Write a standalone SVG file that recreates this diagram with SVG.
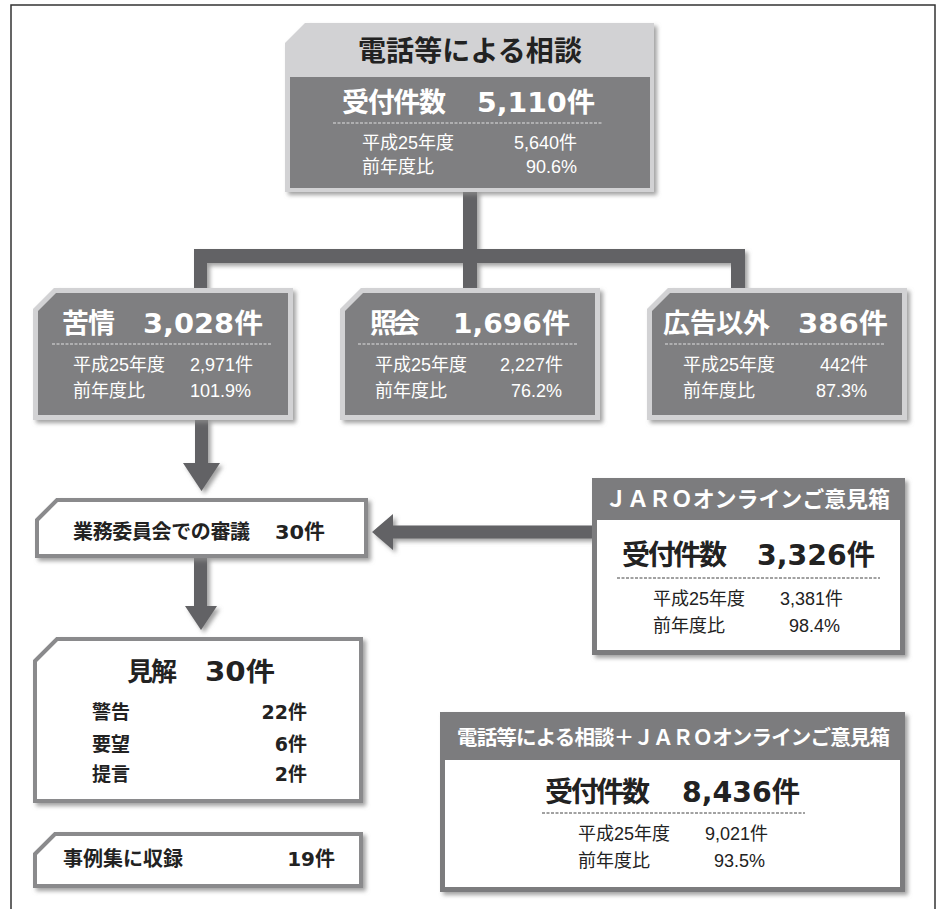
<svg xmlns="http://www.w3.org/2000/svg" width="937" height="909" viewBox="0 0 937 909">
<defs>
<filter id="sh" x="-10%" y="-10%" width="130%" height="130%">
<feDropShadow dx="3" dy="3" stdDeviation="2" flood-color="#8a8a8a" flood-opacity="0.8"/>
</filter>
</defs>
<style>
text{font-family:'Liberation Sans','Noto Sans CJK JP',sans-serif}
.big{font-family:'DejaVu Sans','Noto Sans CJK JP',sans-serif;font-weight:bold}
.lab{font-family:'Noto Sans CJK JP',sans-serif;font-weight:bold}
.w{fill:#fff}
.d{fill:#222}
.sm{font-size:18px}
.darkbox{fill:#7f7f81;stroke:#d2d2d4;stroke-width:5}
.whitebox{fill:#fff;stroke:#8a8a8c;stroke-width:4}
.dashw{stroke:#e0e0e0;stroke-width:1;stroke-dasharray:3 1.5}
.dashd{stroke:#444;stroke-width:1;stroke-dasharray:3 1.5}
.conn{fill:#626265}
.hdr{fill:#7c7c7e}
</style>
<rect x="11" y="5" width="924" height="920" fill="none" stroke="#333" stroke-width="1.5"/>

<g id="connectors" filter="url(#sh)">
<path class="conn" d="M463,190 H477 V249 H745 V292 H731 V263 H477 V292 H463 V263 H207 V292 H194 V249 H463 Z"/>
<path class="conn" d="M195,418 H208 V463 H220 L201.5,491 L183,463 H195 Z"/>
<path class="conn" d="M592,525.5 V538.5 H393 V550 L372,532 L393,514 V525.5 Z"/>
<path class="conn" d="M194,556 H207 V606 H217 L201,630 L185,606 H194 Z"/>
</g>

<g id="top-node">
<path d="M285,43 L305,23 H654 V192 H285 Z" fill="#d2d2d4" filter="url(#sh)"/>
<rect x="290" y="77" width="360" height="111" fill="#7f7f81"/>
<text class="lab d" x="470" y="61" font-size="28" text-anchor="middle" textLength="224">電話等による相談</text>
<text class="lab w" x="342" y="112" font-size="27" textLength="104">受付件数</text>
<text class="big w" x="477" y="112" font-size="27" textLength="118" lengthAdjust="spacingAndGlyphs">5,110件</text>
<line class="dashw" x1="333" y1="123" x2="603" y2="123"/>
<text class="w sm" x="362" y="149">平成25年度</text>
<text class="w sm" x="577" y="149" text-anchor="end">5,640件</text>
<text class="w sm" x="362" y="173">前年度比</text>
<text class="w sm" x="577" y="173" text-anchor="end">90.6%</text>
</g>

<g id="kujo">
<path class="darkbox" d="M35.5,310 L55,290.5 H290.5 V417.5 H35.5 Z" filter="url(#sh)"/>
<text class="lab w" x="62" y="333" font-size="27" textLength="53">苦情</text>
<text class="big w" x="143" y="333" font-size="27" textLength="120" lengthAdjust="spacingAndGlyphs">3,028件</text>
<line class="dashw" x1="52" y1="344" x2="272" y2="344"/>
<text class="w sm" x="73" y="371">平成25年度</text>
<text class="w sm" x="253" y="371" text-anchor="end">2,971件</text>
<text class="w sm" x="73" y="397">前年度比</text>
<text class="w sm" x="251" y="397" text-anchor="end">101.9%</text>
</g>

<g id="shokai">
<path class="darkbox" d="M342.5,310 L362,290.5 H597.5 V417.5 H342.5 Z" filter="url(#sh)"/>
<text class="lab w" x="370" y="333" font-size="27" textLength="50">照会</text>
<text class="big w" x="453" y="333" font-size="27" textLength="117" lengthAdjust="spacingAndGlyphs">1,696件</text>
<line class="dashw" x1="358" y1="344" x2="578" y2="344"/>
<text class="w sm" x="375" y="371">平成25年度</text>
<text class="w sm" x="563" y="371" text-anchor="end">2,227件</text>
<text class="w sm" x="375" y="397">前年度比</text>
<text class="w sm" x="562" y="397" text-anchor="end">76.2%</text>
</g>

<g id="kokoku-igai">
<path class="darkbox" d="M649.5,310 L669,290.5 H904.5 V417.5 H649.5 Z" filter="url(#sh)"/>
<text class="lab w" x="663" y="333" font-size="27" textLength="107">広告以外</text>
<text class="big w" x="798" y="333" font-size="27" textLength="90" lengthAdjust="spacingAndGlyphs">386件</text>
<line class="dashw" x1="665" y1="344" x2="885" y2="344"/>
<text class="w sm" x="683" y="371">平成25年度</text>
<text class="w sm" x="868" y="371" text-anchor="end">442件</text>
<text class="w sm" x="683" y="397">前年度比</text>
<text class="w sm" x="867" y="397" text-anchor="end">87.3%</text>
</g>

<g id="gyomu">
<path class="whitebox" d="M37,520 L57,500 H366 V556 H37 Z" filter="url(#sh)"/>
<text class="lab d" x="73" y="539" font-size="20" textLength="177">業務委員会での審議</text>
<text class="big d" x="275" y="539" font-size="20" textLength="50" lengthAdjust="spacingAndGlyphs">30件</text>
</g>

<g id="kenkai">
<path class="whitebox" d="M35,661 L57,639 H361 V801 H35 Z" filter="url(#sh)"/>
<text class="lab d" x="127" y="681" font-size="26" textLength="50">見解</text>
<text class="big d" x="205" y="681" font-size="26" textLength="70" lengthAdjust="spacingAndGlyphs">30件</text>
<text class="lab d" x="92" y="719" font-size="19">警告</text>
<text class="big d" x="307" y="719" font-size="19" text-anchor="end">22件</text>
<text class="lab d" x="92" y="751" font-size="19">要望</text>
<text class="big d" x="307" y="751" font-size="19" text-anchor="end">6件</text>
<text class="lab d" x="92" y="781" font-size="19">提言</text>
<text class="big d" x="307" y="781" font-size="19" text-anchor="end">2件</text>
</g>

<g id="jireishu">
<path class="whitebox" d="M35,854 L55,834 H361 V886 H35 Z" filter="url(#sh)"/>
<text class="lab d" x="63" y="866" font-size="20">事例集に収録</text>
<text class="big d" x="335" y="866" font-size="20" text-anchor="end">19件</text>
</g>

<g id="jaro-online">
<rect class="hdr" x="592" y="478" width="313" height="177" filter="url(#sh)"/>
<rect x="597" y="520" width="303" height="130" fill="#fff"/>
<text class="lab w" x="605" y="507" font-size="22" textLength="285">ＪＡＲＯオンラインご意見箱</text>
<text class="lab d" x="622" y="565" font-size="28" textLength="105">受付件数</text>
<text class="big d" x="757" y="565" font-size="28" textLength="118" lengthAdjust="spacingAndGlyphs">3,326件</text>
<line class="dashd" x1="617" y1="578" x2="880" y2="578"/>
<text class="d sm" x="653" y="605">平成25年度</text>
<text class="d sm" x="843" y="605" text-anchor="end">3,381件</text>
<text class="d sm" x="653" y="632">前年度比</text>
<text class="d sm" x="840" y="632" text-anchor="end">98.4%</text>
</g>

<g id="total">
<rect class="hdr" x="440" y="712" width="465" height="180" filter="url(#sh)"/>
<rect x="445" y="760" width="455" height="127" fill="#fff"/>
<text class="lab w" x="457" y="745" font-size="20.5" textLength="433">電話等による相談＋ＪＡＲＯオンラインご意見箱</text>
<text class="lab d" x="545" y="802" font-size="28" textLength="105">受付件数</text>
<text class="big d" x="682" y="802" font-size="28" textLength="118" lengthAdjust="spacingAndGlyphs">8,436件</text>
<line class="dashd" x1="542" y1="813" x2="805" y2="813"/>
<text class="d sm" x="578" y="840">平成25年度</text>
<text class="d sm" x="768" y="840" text-anchor="end">9,021件</text>
<text class="d sm" x="578" y="867">前年度比</text>
<text class="d sm" x="765" y="867" text-anchor="end">93.5%</text>
</g>
</svg>
